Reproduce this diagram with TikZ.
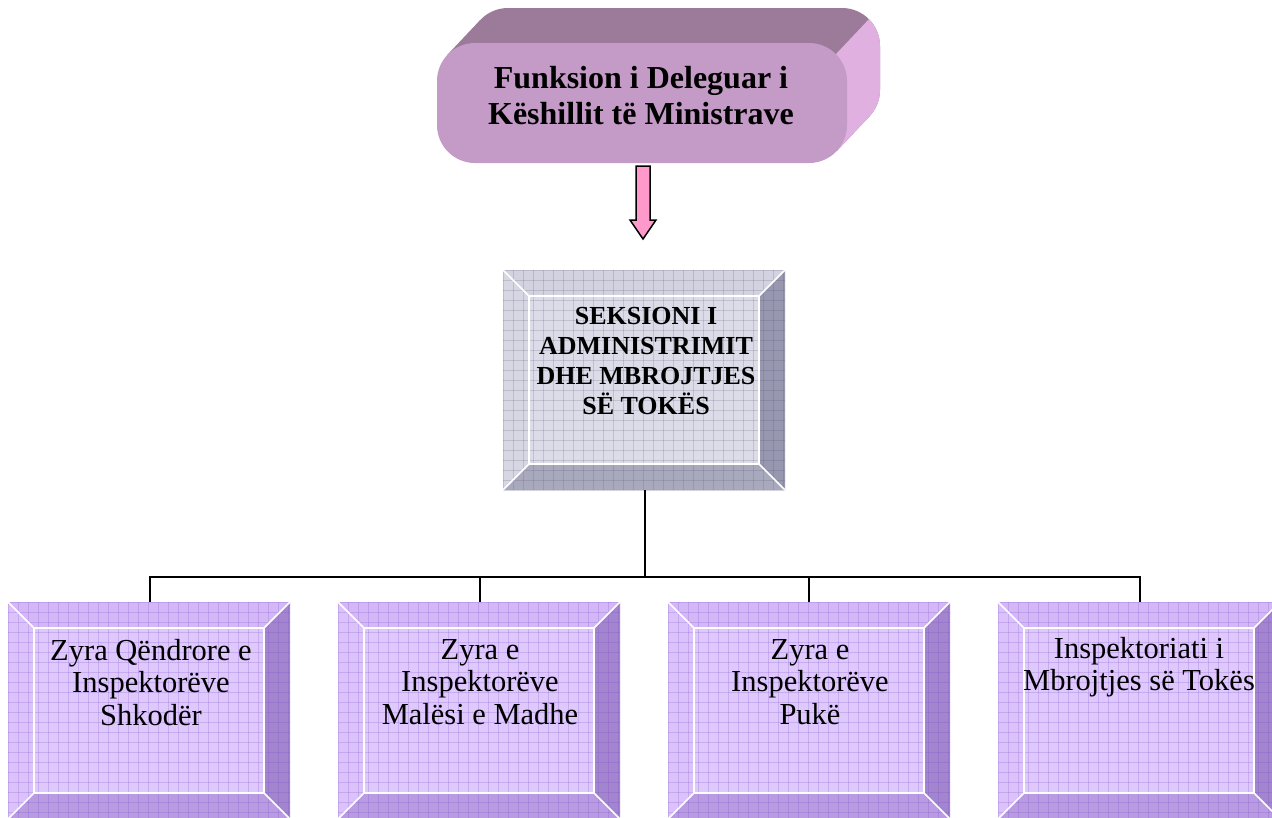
\documentclass[tikz,border=0pt]{standalone}
\usepackage{fontspec}
\setmainfont{Liberation Serif}
\definecolor{ptop}{HTML}{D3B7F7}
\definecolor{pleft}{HTML}{DBC2FA}
\definecolor{pface}{HTML}{DEC8FC}
\definecolor{pright}{HTML}{A385CF}
\definecolor{pbottom}{HTML}{B99BE2}
\definecolor{pgrid}{HTML}{7040C0}
\definecolor{gtop}{HTML}{D2D2E0}
\definecolor{gleft}{HTML}{D7D7E4}
\definecolor{gface}{HTML}{DCDCE8}
\definecolor{gright}{HTML}{9797AF}
\definecolor{gbottom}{HTML}{A9A9BE}
\definecolor{ggrid}{HTML}{505070}
\definecolor{tfront}{HTML}{C49AC6}
\definecolor{ttop}{HTML}{9B7B99}
\definecolor{tside}{HTML}{E0B0E0}
\definecolor{arrowpink}{HTML}{FF99CC}
\newcommand\bevbox[6]{%
  \fill[#6face] (#2,#3) rectangle (#4,#5);
  \fill[#6top] (#2,#3) -- (#4,#3) -- ({#4-26},{#3+26}) -- ({#2+26},{#3+26}) -- cycle;
  \fill[#6left] (#2,#3) -- ({#2+26},{#3+26}) -- ({#2+26},{#5-26}) -- (#2,#5) -- cycle;
  \fill[#6right] (#4,#3) -- (#4,#5) -- ({#4-26},{#5-26}) -- ({#4-26},{#3+26}) -- cycle;
  \fill[#6bottom] (#2,#5) -- (#4,#5) -- ({#4-26},{#5-26}) -- ({#2+26},{#5-26}) -- cycle;
  \begin{scope}
    \clip (#2,#3) rectangle (#4,#5);
    \foreach \g in {0,10,...,300} {
      \draw[#6grid, gridline] ({#2+\g},#3) -- ({#2+\g},#5);
      \draw[#6grid, gridline] (#2,{#3+\g}) -- (#4,{#3+\g});
    }
  \end{scope}
  \draw[bevline] ({#2+26},{#3+26}) rectangle ({#4-26},{#5-26});
  \draw[bevline] (#2,#3) -- ({#2+26},{#3+26}) (#4,#3) -- ({#4-26},{#3+26})
                 (#2,#5) -- ({#2+26},{#5-26}) (#4,#5) -- ({#4-26},{#5-26});
  \node[inner sep=0, minimum width={(#4-#2)*1pt}, minimum height={(#5-#3)*1pt}]
     (#1) at ({(#2+#4)/2},{(#3+#5)/2}) {};
}
\begin{document}
\begin{tikzpicture}[x=1pt,y=-1pt,
  gridline/.style={opacity=0.2, line width=0.8},
  bevline/.style={white, line width=1.5},
  conn/.style={black, line width=2},
  boxtext/.style={anchor=north, inner sep=0, align=center, font=\fontsize{30.5}{32.5}\selectfont},
  sectext/.style={anchor=north, inner sep=0, align=center, font=\fontsize{26}{30}\selectfont\bfseries},
  toptext/.style={anchor=north, inner sep=0, align=center, font=\fontsize{32}{36}\selectfont\bfseries}]
\useasboundingbox (0,0) rectangle (1272,817);
\fill[white] (0,0) rectangle (1272,817);

% ---- top extruded rounded box ----
\fill[ttop, rounded corners=38] (470,8) rectangle (880,128);
\fill[ttop] (447.3,54.9) -- (480.3,19.9) -- (869.7,116.1) -- (836.7,151.1) -- cycle;
\begin{scope}
  \clip (935.7,-51.7) -- (671.7,228.3) -- (1000,228.3) -- (1000,-51.7) -- cycle;
  \fill[tside, rounded corners=38] (470,8) rectangle (880,128);
  \fill[tside] (447.3,54.9) -- (480.3,19.9) -- (869.7,116.1) -- (836.7,151.1) -- cycle;
\end{scope}
\fill[tfront, rounded corners=38] (437,43) rectangle (847,163);
\node[inner sep=0, minimum width=410pt, minimum height=120pt] (top) at (642,103) {};
\node[toptext] (toptxt) at (641,66) {Funksion i Deleguar i\\Këshillit të Ministrave};

% ---- arrow ----
\coordinate (a0) at (643,166);
\filldraw[fill=arrowpink, draw=black, line width=1.5, line join=miter]
  (a0) ++(-7,0) -- ++(14,0) -- ++(0,54) -- ++(6,0) -- (643,239) -- (630,220) -- ++(6,0) -- cycle;

% ---- section box ----
\bevbox{sec}{503}{270}{785}{490}{g}
\node[sectext] (sectxt) at (646,307.5) {SEKSIONI I\\ADMINISTRIMIT\\DHE MBROJTJES\\SË TOKËS};

% ---- bottom boxes ----
\bevbox{b1}{8}{602}{290}{819}{p}
\bevbox{b2}{338}{602}{620}{819}{p}
\bevbox{b3}{668}{602}{950}{819}{p}
\bevbox{b4}{998}{602}{1280}{819}{p}
\node[boxtext] (t1) at (151,639) {Zyra Qëndrore e\\Inspektorëve\\Shkodër};
\node[boxtext] (t2) at (480,639) {Zyra e\\Inspektorëve\\Malësi e Madhe};
\node[boxtext] (t3) at (810,639) {Zyra e\\Inspektorëve\\Pukë};
\node[boxtext] (t4) at (1139,637) {Inspektoriati i\\Mbrojtjes së Tokës};

% ---- connectors ----
\coordinate (bus) at (645,577);
\draw[conn] (sec.south -| bus) -- (bus);
\draw[conn] ([xshift=1pt]b1.north) |- (bus);
\draw[conn] ([xshift=1pt]b2.north) |- (bus);
\draw[conn] (b3.north) |- (bus);
\draw[conn] ([xshift=1pt]b4.north) |- (bus);
\end{tikzpicture}
\end{document}
